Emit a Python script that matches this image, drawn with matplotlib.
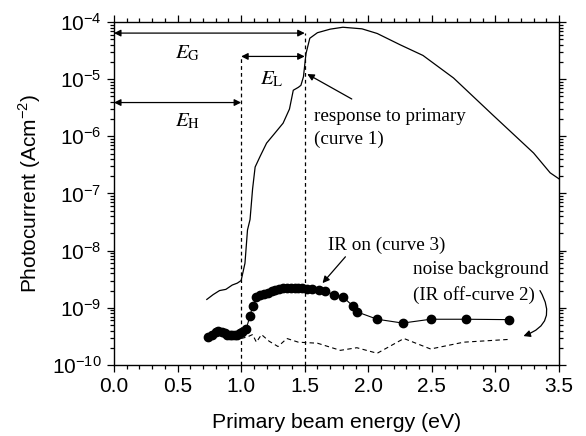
import matplotlib as mpl
mpl.use("Agg")
import matplotlib.pyplot as plt
import numpy as np
from matplotlib.ticker import LogLocator, MultipleLocator, NullFormatter, FormatStrFormatter

# Data

# curve 1: response to primary
x1 = [0.73, 0.78, 0.83, 0.88, 0.93, 0.97, 1.00, 1.03, 1.05, 1.07, 1.09, 1.11, 1.15,
      1.20, 1.26, 1.33, 1.38, 1.41, 1.45, 1.47, 1.49, 1.51, 1.54, 1.60, 1.70, 1.80,
      1.95, 2.07, 2.25, 2.43, 2.67, 2.98, 3.30, 3.43, 3.50]
y1 = [1.4e-9, 1.7e-9, 2.0e-9, 2.1e-9, 2.5e-9, 2.7e-9, 3.0e-9, 6.0e-9, 2.3e-8, 3.5e-8,
      1.2e-7, 2.9e-7, 4.5e-7, 7.6e-7, 1.1e-6, 1.7e-6, 3.0e-6, 6.4e-6, 7.2e-6, 7.8e-6,
      1.1e-5, 2.8e-5, 5.2e-5, 6.5e-5, 7.5e-5, 8.1e-5, 7.6e-5, 6.3e-5, 4.0e-5, 2.6e-5,
      1.05e-5, 2.35e-6, 5.1e-7, 2.3e-7, 1.8e-7]

# curve 3: IR on
x3 = [0.74, 0.77, 0.80, 0.82, 0.85, 0.87, 0.89, 0.91, 0.93, 0.95, 0.97, 0.99, 1.01,
      1.04, 1.07, 1.09, 1.12, 1.15, 1.18, 1.21, 1.24, 1.27, 1.30, 1.33, 1.36, 1.39,
      1.42, 1.45, 1.48, 1.52, 1.56, 1.61, 1.66, 1.73, 1.80, 1.88, 1.91, 2.07, 2.27,
      2.49, 2.77, 3.11]
y3 = [3.1e-10, 3.3e-10, 3.8e-10, 4.0e-10, 3.8e-10, 3.6e-10, 3.4e-10, 3.3e-10,
      3.3e-10, 3.4e-10, 3.4e-10, 3.6e-10, 3.7e-10, 4.3e-10, 7.2e-10, 1.07e-9, 1.55e-9,
      1.65e-9, 1.75e-9, 1.85e-9, 1.95e-9, 2.05e-9, 2.1e-9, 2.2e-9, 2.25e-9, 2.25e-9,
      2.25e-9, 2.2e-9, 2.2e-9, 2.15e-9, 2.1e-9, 2.05e-9, 1.95e-9, 1.7e-9, 1.55e-9,
      1.07e-9, 8.5e-10, 6.3e-10, 5.4e-10, 6.3e-10, 6.3e-10, 6.2e-10]

# curve 2: noise background, IR off
x2 = [1.00, 1.05, 1.09, 1.12, 1.16, 1.22, 1.29, 1.36, 1.45, 1.60, 1.78, 1.91, 2.07,
      2.28, 2.49, 2.75, 3.11]
y2 = [2.9e-10, 3.1e-10, 3.4e-10, 2.5e-10, 3.4e-10, 2.6e-10, 2.1e-10, 2.9e-10,
      2.5e-10, 2.4e-10, 1.8e-10, 2.0e-10, 1.6e-10, 2.9e-10, 1.9e-10, 2.5e-10, 2.8e-10]

# Plot

fig = plt.figure(figsize=(5.86, 4.36), dpi=100)
ax = fig.add_axes([0.1945, 0.163, 0.7595, 0.7865])

ax.semilogy(x1, y1, '-', color='black', linewidth=0.9)
ax.semilogy(x2, y2, '--', color='black', linewidth=0.8, dashes=(4, 3))
ax.semilogy(x3, y3, '-o', color='black', linewidth=0.8, markersize=6)

ax.set_xlim(0, 3.5)
ax.set_ylim(1e-10, 1e-4)

# vertical dashed markers
ax.plot([1.0, 1.0], [1e-10, 2.5e-5], '--', color='black', linewidth=0.9, dashes=(3, 2.5))
ax.plot([1.5, 1.5], [1e-10, 6.4e-5], '--', color='black', linewidth=0.9, dashes=(3, 2.5))

# energy arrows
arrow = dict(arrowstyle='<|-|>', color='black', linewidth=0.9, mutation_scale=10,
             shrinkA=0, shrinkB=0)
ax.annotate('', xy=(0.0, 6.4e-5), xytext=(1.5, 6.4e-5), arrowprops=arrow)
ax.annotate('', xy=(1.0, 2.5e-5), xytext=(1.5, 2.5e-5), arrowprops=arrow)
ax.annotate('', xy=(0.0, 3.9e-6), xytext=(1.0, 3.9e-6), arrowprops=arrow)

serif = 'Liberation Serif'
ax.text(0.58, 2.8e-5, r'$E_{\mathrm{G}}$', fontsize=15, ha='center', va='center',
        family=serif, math_fontfamily='stix')
ax.text(1.24, 1.0e-5, r'$E_{\mathrm{L}}$', fontsize=15, ha='center', va='center',
        family=serif, math_fontfamily='stix')
ax.text(0.58, 1.8e-6, r'$E_{\mathrm{H}}$', fontsize=15, ha='center', va='center',
        family=serif, math_fontfamily='stix')

thin = dict(arrowstyle='-|>', color='black', linewidth=0.9, mutation_scale=10,
            shrinkA=0, shrinkB=0)
ax.annotate('', xy=(1.52, 1.23e-5), xytext=(1.87, 4.5e-6), arrowprops=thin)
ax.text(1.57, 2.2e-6, 'response to primary', fontsize=13.8, family=serif,
        ha='left', va='center')
ax.text(1.57, 8.7e-7, '(curve 1)', fontsize=13.8, family=serif, ha='left', va='center')

ax.annotate('', xy=(1.64, 2.7e-9), xytext=(1.82, 7.8e-9), arrowprops=thin)
ax.text(1.68, 1.25e-8, 'IR on (curve 3)', fontsize=13.8, family=serif,
        ha='left', va='center')

ax.text(2.35, 4.6e-9, 'noise background', fontsize=13.8, family=serif,
        ha='left', va='center')
ax.text(2.35, 1.65e-9, '(IR off-curve 2)', fontsize=13.8, family=serif,
        ha='left', va='center')
ax.annotate('', xy=(3.22, 3.2e-10), xytext=(3.35, 2.0e-9),
            arrowprops=dict(arrowstyle='-|>', color='black', linewidth=0.9,
                            mutation_scale=10, shrinkA=0, shrinkB=0,
                            connectionstyle='arc3,rad=-0.6'))

# Labels and ticks
sans = 'Liberation Sans'
ax.set_xlabel('Primary beam energy (eV)', fontsize=15.3, family=sans, labelpad=12)
ax.set_ylabel(r'Photocurrent (Acm$^{\mathregular{-2}}$)', fontsize=15, family=sans,
              labelpad=6)

ax.xaxis.set_major_locator(MultipleLocator(0.5))
ax.xaxis.set_minor_locator(MultipleLocator(0.1))
ax.xaxis.set_major_formatter(FormatStrFormatter('%.1f'))
ax.yaxis.set_major_locator(LogLocator(base=10, numticks=20))
ax.yaxis.set_minor_locator(LogLocator(base=10, subs=np.arange(2, 10), numticks=20))
ax.yaxis.set_minor_formatter(NullFormatter())

ax.tick_params(which='both', direction='out', top=True, right=True, width=0.9)
ax.tick_params(which='major', length=5, labelsize=15, pad=4)
ax.tick_params(which='minor', length=3)
for lab in ax.get_xticklabels() + ax.get_yticklabels():
    lab.set_family(sans)
for s in ax.spines.values():
    s.set_linewidth(1.0)

plt.savefig("out.png", dpi=100)
